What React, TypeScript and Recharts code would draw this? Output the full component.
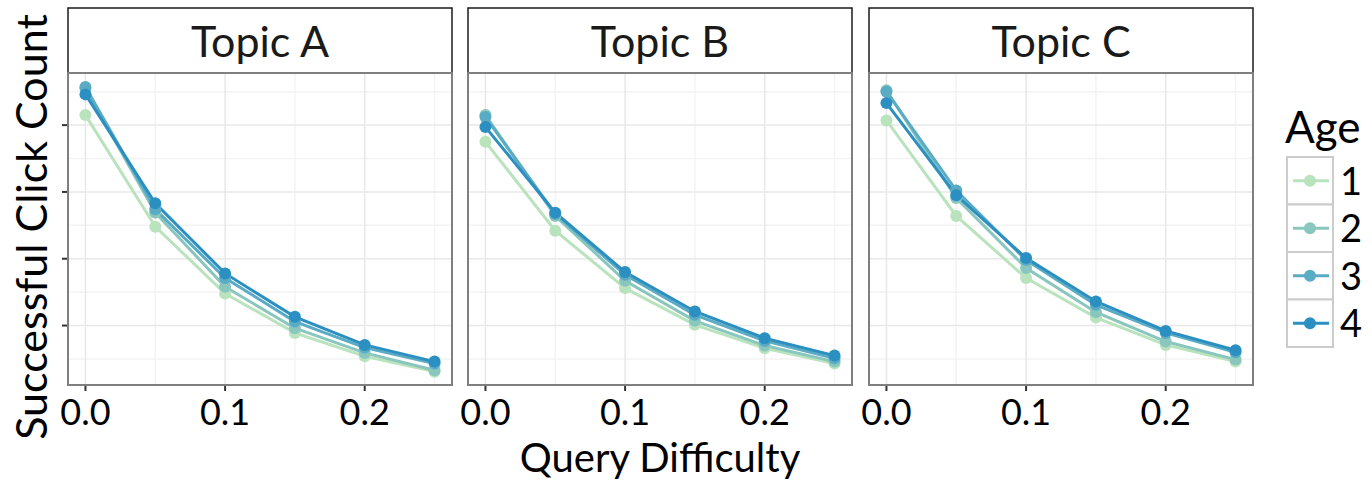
import React from 'react';
import { LineChart, Line, XAxis, YAxis, CartesianGrid } from 'recharts';

// ---------- data ----------
const difficulty = [0, 0.05, 0.1, 0.15, 0.2, 0.25];
const topics = ['Topic A', 'Topic B', 'Topic C'];
const ageLabels = ['1', '2', '3', '4'];
const ageColors = ['#b9e3bd', '#88c6be', '#5aacc4', '#2c8fc1'];

const topicA_age1 = [415, 248, 148, 89, 54, 31];
const topicA_age2 = [455, 269, 158, 96, 59, 33];
const topicA_age3 = [457, 274, 171, 106, 67, 43];
const topicA_age4 = [446, 283, 178, 113, 71, 46];

const topicB_age1 = [375, 242, 156, 101, 66, 43];
const topicB_age2 = [415, 264, 167, 107, 70, 46];
const topicB_age3 = [412, 267, 176, 116, 77, 51];
const topicB_age4 = [397, 269, 180, 121, 81, 55];

const topicC_age1 = [407, 264, 171, 112, 71, 46];
const topicC_age2 = [452, 291, 186, 120, 76, 49];
const topicC_age3 = [450, 302, 198, 131, 89, 60];
const topicC_age4 = [433, 295, 201, 136, 92, 63];

const xTicks = [0, 0.1, 0.2];
const xMinor = [0.05, 0.15, 0.25];
const yTicks = [100, 200, 300, 400];
const yMinor = [50, 150, 250, 350, 450];

const topicSeries = [
  [topicA_age1, topicA_age2, topicA_age3, topicA_age4],
  [topicB_age1, topicB_age2, topicB_age3, topicB_age4],
  [topicC_age1, topicC_age2, topicC_age3, topicC_age4],
];

const buildRows = (series: number[][]) =>
  difficulty.map((x, i) => {
    const row: any = { x };
    series.forEach((s, k) => {
      row['a' + ageLabels[k]] = s[i];
    });
    return row;
  });

// ---------- layout ----------
const FONT = "Lato, 'Open Sans', sans-serif";
const panelLefts = [68, 468, 869];
const PANEL_W = 384;
const STRIP_TOP = 8;
const PLOT_TOP = 73;
const PLOT_BOTTOM = 385;
const Y_AXIS_W = 20;

function Panel({ left, rows, showY }: { left: number; rows: any[]; showY: boolean }) {
  return (
    <div style={{ position: 'absolute', left: left - Y_AXIS_W, top: 0 }}>
      <LineChart
        width={PANEL_W + Y_AXIS_W + 4}
        height={486}
        data={rows}
        margin={{ top: PLOT_TOP, right: 4, bottom: 41, left: 0 }}
      >
        <CartesianGrid
          stroke="#f3f3f3"
          strokeWidth={1.5}
          horizontalValues={yMinor}
          verticalValues={xMinor}
        />
        <CartesianGrid
          stroke="#e8e8e8"
          strokeWidth={1.5}
          horizontalValues={yTicks}
          verticalValues={xTicks}
        />
        <XAxis
          dataKey="x"
          type="number"
          domain={[-0.0125, 0.2625]}
          allowDataOverflow
          ticks={xTicks}
          interval={0}
          tickFormatter={(v: number) => v.toFixed(1)}
          axisLine={false}
          tickLine={{ stroke: '#333', strokeWidth: 2 }}
          tickSize={6}
          tickMargin={8}
          tick={{ fill: '#000', fontSize: 36, fontFamily: FONT }}
          height={60}
        />
        <YAxis
          type="number"
          domain={[11, 478]}
          allowDataOverflow
          ticks={yTicks}
          interval={0}
          width={Y_AXIS_W}
          axisLine={false}
          tickLine={showY ? { stroke: '#333', strokeWidth: 2 } : false}
          tickSize={6}
          tickFormatter={() => ''}
        />
        {ageLabels.map((a, k) => (
          <Line
            key={a}
            type="linear"
            dataKey={'a' + a}
            stroke={ageColors[k]}
            strokeWidth={3}
            dot={{ r: 6, fill: ageColors[k], stroke: ageColors[k], strokeWidth: 0 }}
            isAnimationActive={false}
          />
        ))}
      </LineChart>
    </div>
  );
}

export default function App() {
  return (
    <div
      style={{
        position: 'absolute',
        left: 0,
        top: 0,
        width: 1372,
        height: 486,
        background: '#fff',
        fontFamily: FONT,
        overflow: 'hidden',
      }}
    >
      {topics.map((t, i) => (
        <Panel key={t} left={panelLefts[i]} rows={buildRows(topicSeries[i])} showY={i === 0} />
      ))}
      <svg
        width={1372}
        height={486}
        style={{ position: 'absolute', left: 0, top: 0, pointerEvents: 'none' }}
      >
        {topics.map((t, i) => (
          <g key={t}>
            <rect
              x={panelLefts[i]}
              y={STRIP_TOP}
              width={PANEL_W}
              height={PLOT_TOP - STRIP_TOP}
              fill="#fff"
              stroke="#1a1a1a"
              strokeWidth={1.5}
            />
            <text
              x={panelLefts[i] + PANEL_W / 2}
              y={57}
              textAnchor="middle"
              fontSize={43}
              fontFamily={FONT}
              fill="#1a1a1a"
            >
              {t}
            </text>
            <rect
              x={panelLefts[i]}
              y={PLOT_TOP}
              width={PANEL_W}
              height={PLOT_BOTTOM - PLOT_TOP}
              fill="none"
              stroke="#7f7f7f"
              strokeWidth={2}
            />
          </g>
        ))}
        <text
          x={660}
          y={472}
          textAnchor="middle"
          fontSize={40}
          fontFamily={FONT}
          fill="#000"
        >
          Query Difficulty
        </text>
        <text
          transform="translate(47,227) rotate(-90)"
          textAnchor="middle"
          fontSize={43}
          fontFamily={FONT}
          fill="#000"
        >
          Successful Click Count
        </text>
        <text x={1285} y={143} fontSize={44} fontFamily={FONT} fill="#000">
          Age
        </text>
        {ageLabels.map((a, k) => {
          const y0 = 157 + k * 47.5;
          const cy = y0 + 47.5 / 2;
          return (
            <g key={a}>
              <rect x={1287} y={y0} width={46} height={47.5} fill="#fff" stroke="#cccccc" strokeWidth={2} />
              <line x1={1293} x2={1329} y1={cy} y2={cy} stroke={ageColors[k]} strokeWidth={3} />
              <circle cx={1310} cy={cy} r={6} fill={ageColors[k]} />
              <text x={1340} y={cy + 14} fontSize={38} fontFamily={FONT} fill="#000">
                {a}
              </text>
            </g>
          );
        })}
      </svg>
    </div>
  );
}
